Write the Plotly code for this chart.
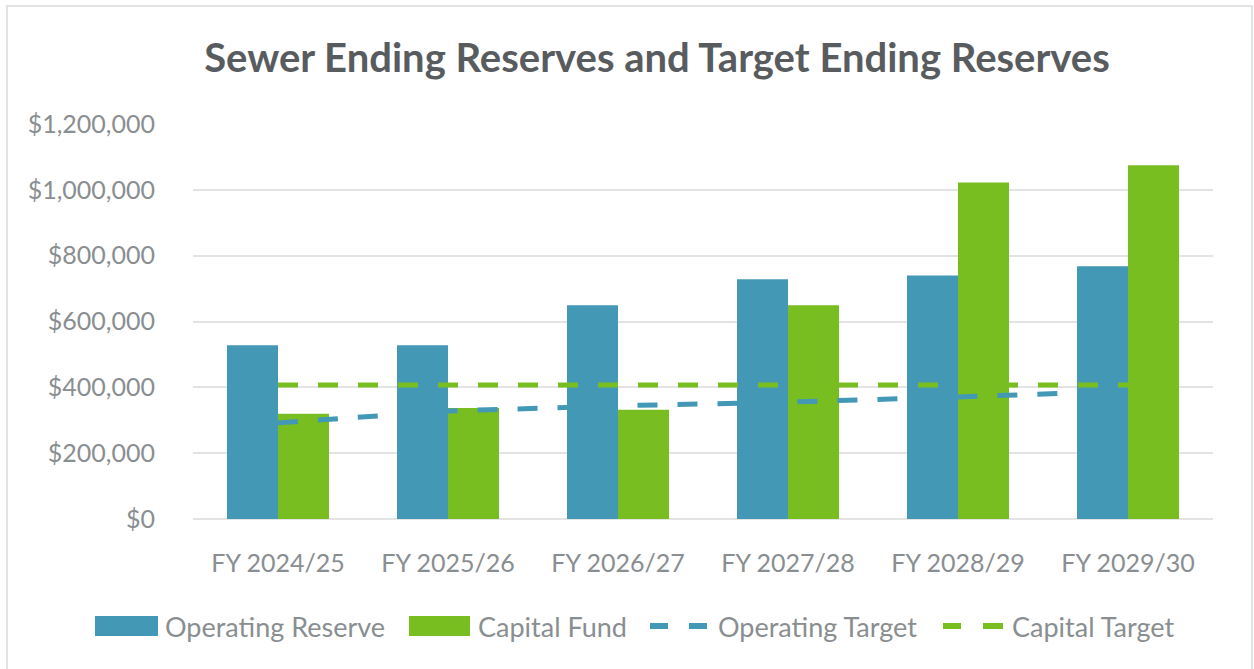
import plotly.graph_objects as go

categories = ["FY 2024/25", "FY 2025/26", "FY 2026/27", "FY 2027/28", "FY 2028/29", "FY 2029/30"]
operating_reserve = [528000, 528000, 649000, 728000, 740000, 768000]
capital_fund = [320000, 337000, 332000, 649000, 1022000, 1075000]
operating_target = [292000, 328000, 344000, 355000, 371000, 388000]
capital_target = [407000, 407000, 407000, 407000, 407000, 407000]
y_ticks = [0, 200000, 400000, 600000, 800000, 1000000, 1200000]
y_tick_labels = ["$0", "$200,000", "$400,000", "$600,000", "$800,000", "$1,000,000", "$1,200,000"]
series_names = ["Operating Reserve", "Capital Fund", "Operating Target", "Capital Target"]

BLUE = "#4398B6"
GREEN = "#79BE21"
TXT = "#898E91"
FONT = "Lato"

fig = go.Figure()
fig.add_trace(go.Bar(name=series_names[0], x=categories, y=operating_reserve,
                     marker=dict(color=BLUE, line=dict(width=0))))
fig.add_trace(go.Bar(name=series_names[1], x=categories, y=capital_fund,
                     marker=dict(color=GREEN, line=dict(width=0))))
fig.add_trace(go.Scatter(name=series_names[2], x=categories, y=operating_target, mode="lines",
                         line=dict(color=BLUE, width=5, dash="20px,20px")))
fig.add_trace(go.Scatter(name=series_names[3], x=categories, y=capital_target, mode="lines",
                         line=dict(color=GREEN, width=5, dash="20px,20px")))

W, H = 1254, 669
L, R, T, B = 193, 41, 124, 150
pw, ph = W - L - R, H - T - B


def px(x):
    return (x - L) / pw


def py(y):
    return (H - B - y) / ph


shapes = []
annotations = []

# chart frame
shapes.append(dict(type="rect", xref="paper", yref="paper",
                   x0=px(7), x1=px(1252), y0=py(690), y1=py(6),
                   line=dict(color="#E2E4E4", width=2), fillcolor="rgba(0,0,0,0)", layer="below"))

# legend (drawn manually to match the wide swatches)
LEG_Y = 626
shapes.append(dict(type="rect", xref="paper", yref="paper", x0=px(95), x1=px(158),
                   y0=py(636), y1=py(616), fillcolor=BLUE, line=dict(width=0)))
shapes.append(dict(type="rect", xref="paper", yref="paper", x0=px(409), x1=px(470),
                   y0=py(636), y1=py(616), fillcolor=GREEN, line=dict(width=0)))
for (a, b), col in [((650, 668), BLUE), ((689, 707), BLUE), ((943, 961), GREEN), ((983, 1003), GREEN)]:
    shapes.append(dict(type="line", xref="paper", yref="paper", x0=px(a), x1=px(b),
                       y0=py(LEG_Y), y1=py(LEG_Y), line=dict(color=col, width=6)))
for name, x0 in zip(series_names, [163, 476, 716, 1010]):
    annotations.append(dict(text=name, xref="paper", yref="paper", x=px(x0), y=py(LEG_Y),
                            xanchor="left", yanchor="middle", showarrow=False,
                            font=dict(family=FONT, size=27, color=TXT)))

fig.update_layout(
    width=W, height=H,
    margin=dict(l=L, r=R, t=T, b=B),
    paper_bgcolor="white", plot_bgcolor="white",
    barmode="group", bargap=0.4, bargroupgap=0,
    font=dict(family=FONT, color=TXT),
    title=dict(text="<b>Sewer Ending Reserves and Target Ending Reserves</b>",
               font=dict(family=FONT, size=40, color="#595C5F"),
               x=657 / W, xanchor="center", xref="container",
               y=1 - 58 / H, yanchor="middle", yref="container"),
    xaxis=dict(tickfont=dict(size=25, color=TXT), showgrid=False, showline=False,
               ticks="", ticklabelstandoff=27),
    yaxis=dict(range=[0, 1200000], tickvals=y_ticks, ticktext=y_tick_labels,
               tickfont=dict(size=25, color=TXT), showgrid=True, gridcolor="#E3E3E3",
               gridwidth=2, zeroline=True, zerolinecolor="#E3E3E3", zerolinewidth=2,
               showline=False, ticks="", ticklabelstandoff=37),
    showlegend=False,
    shapes=shapes,
    annotations=annotations,
)

fig.write_html("out.html",
               config={"displayModeBar": False},
               post_script="document.body.style.margin='0';document.body.style.overflow='hidden';")
